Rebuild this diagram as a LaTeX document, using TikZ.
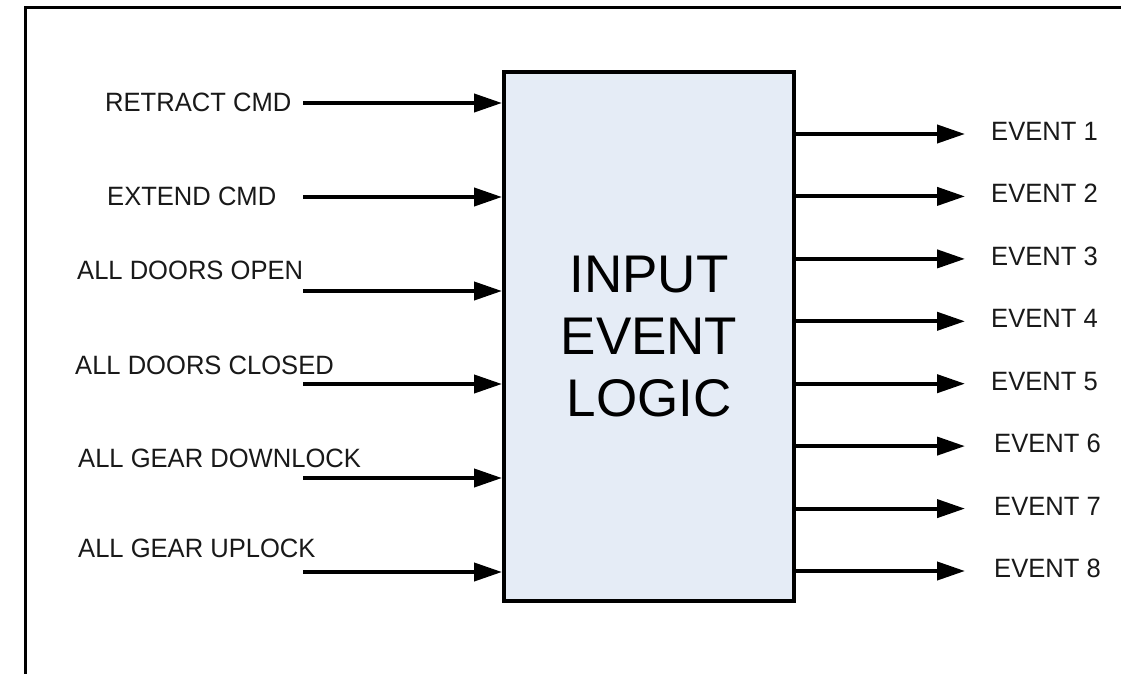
\documentclass[tikz,border=0pt]{standalone}
\usepackage{fontspec}
\setmainfont{Liberation Sans}
\newfontfamily\lblfont[FakeStretch=0.965]{Liberation Sans}
\usetikzlibrary{arrows.meta}
\definecolor{boxfill}{RGB}{229,236,246}
\definecolor{ink}{RGB}{25,25,25}
\tikzset{
  lbl/.style={inner sep=0pt, font=\lblfont\fontsize{26.5}{30}\selectfont, text=ink},
  arr/.style={line width=4pt, -{Triangle[length=28pt,width=18pt]}},
  logicbox/.style={draw, line width=4pt, fill=boxfill, minimum width=290pt, minimum height=529pt,
    align=center, inner sep=0pt, font=\fontsize{53}{62}\selectfont},
  frameline/.style={line width=3pt}
}
\begin{document}
\begin{tikzpicture}[x=1pt,y=-1pt]
\useasboundingbox (0,0) rectangle (1121,674);
\fill[white] (0,0) rectangle (1121,674);
% frame
\coordinate (ftr) at (1140,8);
\coordinate (ftl) at (25,8);
\coordinate (fbl) at (25,690);
\draw[frameline] (ftr) -- (ftl) -- (fbl);
% logic box
\node[logicbox] (logic) at (649,336.5) {INPUT\\EVENT\\LOGIC};
% inputs
\foreach \n/\y in {1/103,2/197,3/291,4/384,5/478,6/572}{
  \coordinate (i\n) at (303,\y);
  \draw[arr] (i\n) -- (i\n -| logic.west);
}
\node[lbl, anchor=base west] (l1) at (105,112) {RETRACT CMD};
\node[lbl, anchor=base west] (l2) at (107,205) {EXTEND CMD};
\node[lbl, anchor=base west] (l3) at (77,279) {ALL DOORS OPEN};
\node[lbl, anchor=base west] (l4) at (75,374) {ALL DOORS CLOSED};
\node[lbl, anchor=base west] (l5) at (78,467) {ALL GEAR DOWNLOCK};
\node[lbl, anchor=base west] (l6) at (78,557) {ALL GEAR UPLOCK};
% outputs
\foreach \n/\y/\x in {1/134/991,2/196.4/991,3/258.9/991,4/321.3/991,5/383.7/991,6/446.1/994,7/508.6/994,8/571/994}{
  \coordinate (o\n) at (965,\y);
  \draw[arr] (o\n -| logic.east) -- (o\n);
  \node[lbl, anchor=base west] (e\n) at (\x,\y+6.5) {EVENT \n};
}
\end{tikzpicture}
\end{document}
